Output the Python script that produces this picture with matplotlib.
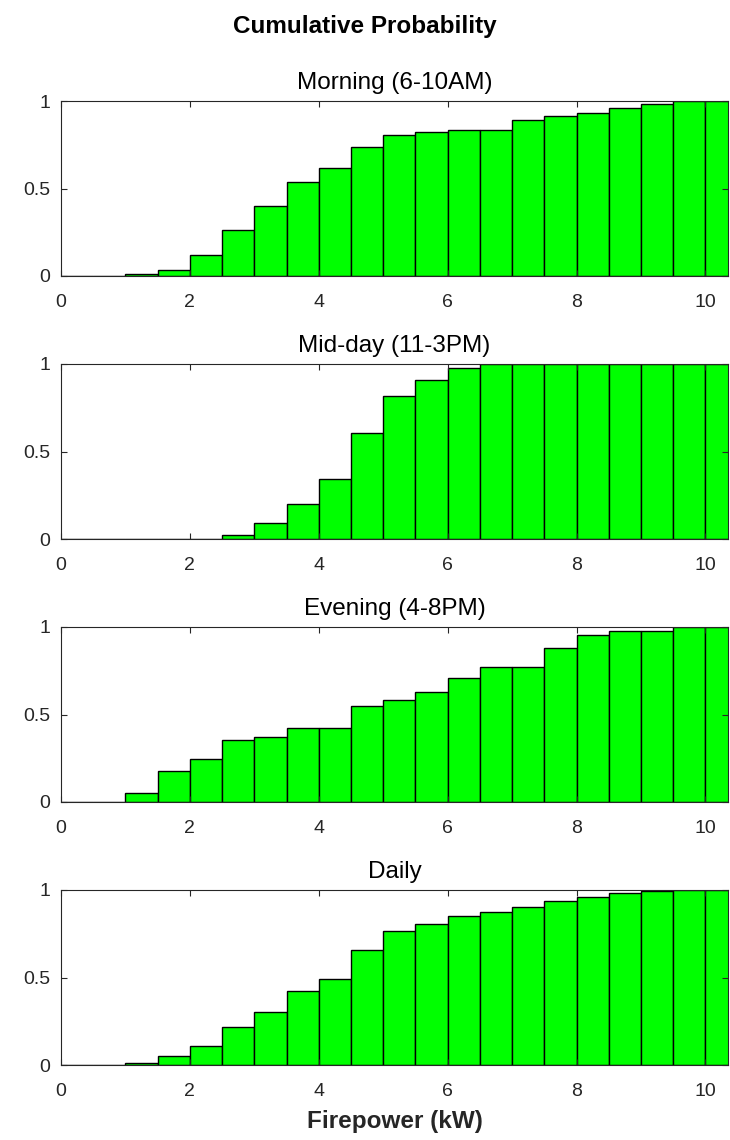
import matplotlib
matplotlib.use("Agg")
import matplotlib.pyplot as plt
import numpy as np

plt.rcParams['font.family'] = ['Liberation Sans', 'DejaVu Sans']

# left bin edges (kW), bins are 0.5 wide
edges = np.arange(0, 10.5, 0.5)

titles = ["Morning (6-10AM)", "Mid-day (11-3PM)", "Evening (4-8PM)", "Daily"]

morning = [0, 0, 0.011, 0.036, 0.119, 0.262, 0.400, 0.538, 0.617, 0.736, 0.803,
           0.824, 0.833, 0.833, 0.893, 0.912, 0.931, 0.960, 0.981, 1.0, 1.0]
midday = [0, 0, 0, 0, 0, 0.023, 0.094, 0.200, 0.342, 0.603, 0.819,
          0.910, 0.977, 1.0, 1.0, 1.0, 1.0, 1.0, 1.0, 1.0, 1.0]
evening = [0, 0, 0.050, 0.176, 0.247, 0.352, 0.373, 0.421, 0.421, 0.551, 0.581,
           0.629, 0.707, 0.772, 0.772, 0.881, 0.954, 0.979, 0.979, 1.0, 1.0]
daily = [0, 0, 0.011, 0.050, 0.111, 0.218, 0.304, 0.421, 0.491, 0.660, 0.765,
         0.805, 0.853, 0.876, 0.901, 0.935, 0.962, 0.983, 0.992, 1.0, 1.0]

series = [morning, midday, evening, daily]

fig = plt.figure(figsize=(7.3, 11.4), dpi=100)
W, H = 730, 1140
tops = [101, 364, 627, 890]
ax_h = 175
left, right = 61, 728

txt_col = '#262626'
for i, (vals, ttl) in enumerate(zip(series, titles)):
    ax = fig.add_axes([left / W, 1 - (tops[i] + ax_h) / H, (right - left) / W, ax_h / H])
    ax.bar(edges, vals, width=0.5, align='edge', color='#00ff00',
           edgecolor='black', linewidth=1.0)
    ax.set_xlim(0, 10.35)
    ax.set_ylim(0, 1)
    ax.set_xticks([0, 2, 4, 6, 8, 10])
    ax.set_yticks([0, 0.5, 1])
    ax.set_yticklabels(['0', '0.5', '1'])
    ax.tick_params(direction='in', top=True, right=True, length=4, width=0.8,
                   labelsize=14, colors=txt_col, labelcolor=txt_col)
    ax.tick_params(axis='x', pad=13)
    ax.tick_params(axis='y', pad=8)
    for s in ax.spines.values():
        s.set_color(txt_col)
        s.set_linewidth(0.8)
    ax.set_title(ttl, fontsize=17.5, color='black', pad=8.3)
    if i == 3:
        ax.set_xlabel('Firepower (kW)', fontsize=17.5, fontweight='bold',
                      color=txt_col, labelpad=7)

fig.text(0.5, 1 - 33.5 / H, 'Cumulative Probability', ha='center', va='baseline',
         fontsize=17.5, fontweight='bold')

fig.savefig('out.png', dpi=100, facecolor='white')
